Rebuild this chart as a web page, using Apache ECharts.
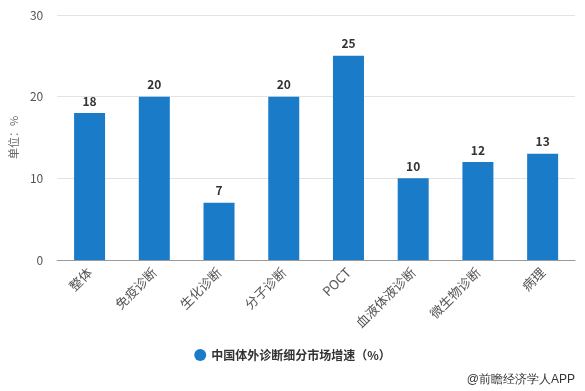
<!DOCTYPE html>
<html><head><meta charset="utf-8">
<script src="https://cdn.jsdelivr.net/npm/echarts@6/dist/echarts.min.js"></script>
<style>html,body{margin:0;padding:0;background:#fff}#c{width:585px;height:391px}</style>
</head><body><div id="c"></div>
<script>
const categories = ['整体','免疫诊断','生化诊断','分子诊断','POCT','血液体液诊断','微生物诊断','病理'];
const values = [18,20,7,20,25,10,12,13];
const yTicks = {min:0,max:30,interval:10};
const seriesName = '中国体外诊断细分市场增速（%）';
const chart = echarts.init(document.getElementById('c'));
chart.setOption({
  animation:false,
  textStyle:{fontFamily:'"Noto Sans CJK SC", "Noto Sans", sans-serif'},
  grid:{left:55,right:10,top:15,bottom:131},
  legend:{bottom:25,left:'center',icon:'circle',itemWidth:12,itemHeight:12,itemGap:8,
    textStyle:{fontSize:12,color:'#333',fontWeight:'bold'},data:[seriesName]},
  graphic:[{type:'text',right:10,bottom:5,style:{text:'@前瞻经济学人APP',fontSize:12,fill:'#333',
    font:'12px "Noto Sans CJK SC", sans-serif'}}],
  xAxis:{type:'category',data:categories,
    axisLine:{lineStyle:{color:'#999'}},
    axisTick:{alignWithLabel:true,lineStyle:{color:'#999'},length:5},
    axisLabel:{rotate:45,fontSize:13,color:'#555',interval:0,margin:10}},
  yAxis:{type:'value',min:yTicks.min,max:yTicks.max,interval:yTicks.interval,
    name:'单位：%',nameLocation:'middle',nameGap:38,nameTextStyle:{fontSize:11,color:'#666'},
    axisLine:{show:false},axisTick:{show:false},
    axisLabel:{fontSize:12,color:'#555',margin:14},
    splitLine:{lineStyle:{color:'#e3e3e3'}}},
  series:[{name:seriesName,type:'bar',data:values,barWidth:31,
    itemStyle:{color:'#1a7bc9'},
    label:{show:true,position:'top',fontSize:12,fontWeight:'bold',color:'#333',distance:6}}]
});
</script></body></html>
